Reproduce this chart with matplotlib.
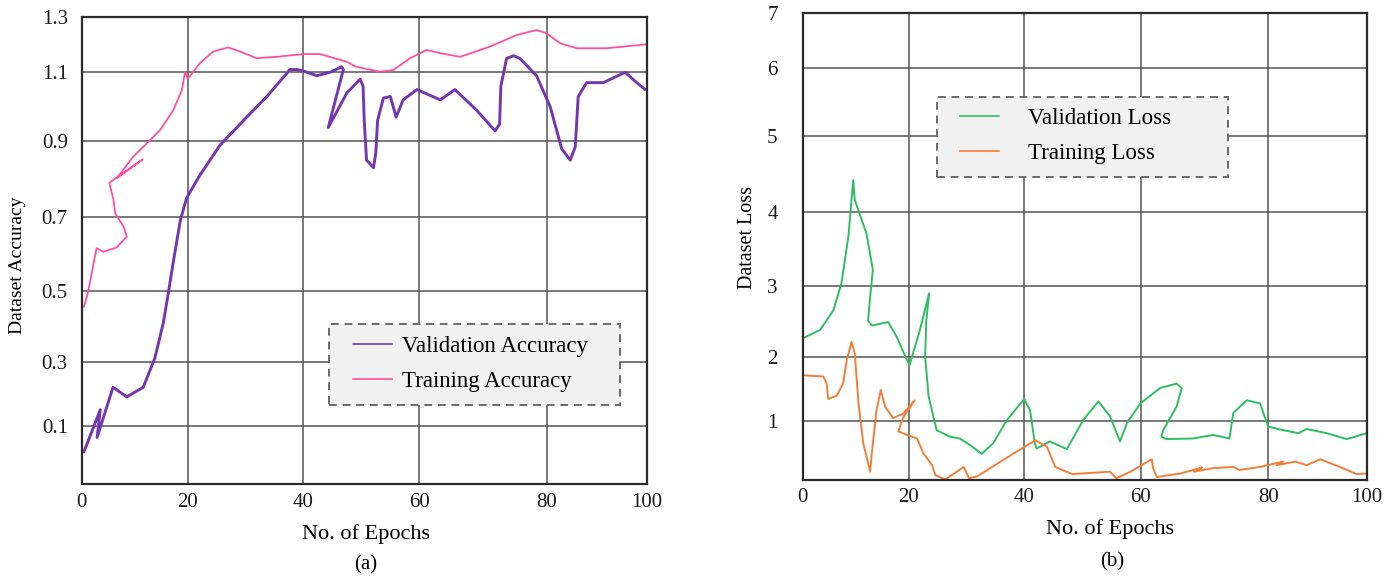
import numpy as np
import matplotlib
matplotlib.use("Agg")
import matplotlib.pyplot as plt
from matplotlib.patches import Rectangle

# ---------------- data ----------------
acc_val_epoch = [0.4, 3.5, 2.9, 5.9, 8.5, 11.6, 13.8, 15.4, 16.3, 17.3, 18.6, 19.8, 22.1, 25.6, 30.2,
                 33.7, 37.7, 38.9, 40.0, 42.3, 44.6, 46.6, 46.9, 44.3, 47.5, 49.8, 50.3, 50.5, 50.9, 52.1,
                 52.5, 52.8, 53.8, 55.0, 56.0, 57.2, 59.6, 63.3, 65.6, 69.0, 71.9, 72.6, 72.8, 73.7, 74.8, 75.8,
                 78.4, 80.7, 83.0, 84.7, 85.7, 86.3, 88.0, 91.3, 95.7, 98.0, 99.7]
acc_val = [0.01, 0.15, 0.06, 0.22, 0.19, 0.22, 0.31, 0.41, 0.49, 0.58, 0.69, 0.75, 0.81, 0.89, 0.97,
           1.03, 1.11, 1.11, 1.105, 1.09, 1.10, 1.12, 1.11, 0.94, 1.04, 1.08, 1.06, 0.96, 0.85, 0.83,
           0.87, 0.96, 1.025, 1.03, 0.97, 1.02, 1.05, 1.02, 1.05, 0.99, 0.93, 0.95, 1.06, 1.15, 1.16, 1.15,
           1.09, 1.00, 0.88, 0.85, 0.885, 1.03, 1.07, 1.07, 1.10, 1.07, 1.05]

acc_train_epoch = [0.4, 1.1, 2.8, 4.1, 6.6, 8.5, 7.9, 6.3, 6.0, 5.2, 11.5, 6.6, 9.7, 12.3, 14.8,
                   17.3, 18.9, 19.5, 20.0, 22.1, 24.4, 27.0, 29.1, 31.9, 35.4, 40.0, 42.9, 47.5, 49.1, 53.2,
                   55.5, 58.4, 61.2, 63.3, 66.4, 71.1, 75.3, 78.4, 80.0, 82.7, 86.0, 92.0, 99.7]
acc_train = [0.455, 0.49, 0.615, 0.605, 0.617, 0.646, 0.673, 0.709, 0.744, 0.79, 0.852, 0.802, 0.859, 0.895, 0.933,
             0.991, 1.049, 1.102, 1.081, 1.133, 1.175, 1.19, 1.175, 1.151, 1.156, 1.166, 1.166, 1.138, 1.12, 1.102,
             1.108, 1.151, 1.181, 1.169, 1.156, 1.193, 1.235, 1.253, 1.241, 1.205, 1.187, 1.187, 1.201]

loss_val_epoch = [0, 3.3, 5.8, 7.3, 8.6, 9.5, 9.8, 12.0, 13.2, 12.7, 12.3, 13.0, 16.1, 17.7, 19.6,
                  20.1, 21.9, 23.5, 23.0, 22.8, 23.4, 24.8, 27.1, 28.8, 30.6, 32.6, 34.6, 37.0, 40.0, 41.0,
                  41.8, 42.1, 44.4, 47.3, 50.1, 52.7, 54.7, 56.4, 57.6, 59.9, 63.0, 65.6, 66.4, 65.6, 63.5,
                  63.2, 64.0, 68.2, 71.3, 73.9, 74.5, 76.6, 78.7, 80.0, 83.0, 86.1, 87.8, 91.8, 95.9, 100]
loss_val = [2.26, 2.38, 2.66, 3.04, 3.67, 4.42, 4.16, 3.71, 3.22, 2.85, 2.51, 2.44, 2.49, 2.28, 1.95,
            1.87, 2.38, 2.90, 2.51, 2.0, 1.38, 0.84, 0.73, 0.70, 0.59, 0.44, 0.62, 1.01, 1.34, 1.16,
            0.62, 0.53, 0.65, 0.52, 1.01, 1.30, 1.07, 0.65, 0.96, 1.27, 1.51, 1.58, 1.51, 1.22, 0.84,
            0.73, 0.69, 0.70, 0.76, 0.70, 1.12, 1.32, 1.27, 0.90, 0.84, 0.79, 0.86, 0.79, 0.69, 0.79]

loss_train_epoch = [0, 3.9, 4.5, 4.8, 6.4, 7.6, 8.3, 9.2, 9.8, 10.5, 11.4, 12.7, 13.0, 13.9, 14.7,
                    15.5, 17.0, 18.9, 21.0, 18.9, 18.0, 19.6, 21.4, 22.5, 24.0, 24.6, 26.3, 29.5, 30.4, 31.8,
                    38.2, 41.9, 43.9, 45.3, 48.2, 54.7, 55.8, 58.2, 61.7, 61.9, 62.5, 66.2, 69.6, 68.3, 71.3,
                    74.5, 75.5, 78.7, 83.0, 81.7, 85.5, 87.8, 90.5, 94.5, 97.9, 100]
loss_train = [1.71, 1.69, 1.58, 1.34, 1.39, 1.58, 1.95, 2.21, 2.05, 1.27, 0.62, 0.14, 0.45, 1.17, 1.48,
              1.22, 1.04, 1.11, 1.32, 1.05, 0.82, 0.76, 0.70, 0.45, 0.25, 0.08, 0.01, 0.22, 0.03, 0.06,
              0.45, 0.67, 0.56, 0.22, 0.10, 0.14, 0.03, 0.14, 0.35, 0.20, 0.05, 0.11, 0.21, 0.14, 0.20,
              0.22, 0.17, 0.22, 0.31, 0.25, 0.31, 0.25, 0.35, 0.22, 0.10, 0.11]

epoch_ticks = [0, 20, 40, 60, 80, 100]
acc_ticks = [0.1, 0.3, 0.5, 0.7, 0.9, 1.1, 1.3]
acc_tick_labels = ["0.1", "0.3", "0.5", "0.7", "0.9", "1.1", "1.3"]
loss_ticks = [1, 2, 3, 4, 5, 6, 7]
loss_tick_labels = ["1", "2", "3", "4", "5", "6", "7"]

# ---------------- non-uniform axis scales of the original figure ----------------
acc_x_knots, acc_x_pos = [0, 20, 40, 60, 80, 100], [0, 0.1876, 0.3922, 0.5975, 0.8230, 1.0]
acc_y_knots = [-0.1, 0.1, 0.3, 0.5, 0.7, 0.9, 1.1, 1.3]
acc_y_pos = [0, 0.1254, 0.2624, 0.4143, 0.5727, 0.7340, 0.8817, 1.0]
loss_x_knots, loss_x_pos = [0, 20, 40, 60, 80, 100], [0, 0.1884, 0.3927, 0.5995, 0.8251, 1.0]
loss_y_knots = [0, 1, 2, 3, 4, 5, 6, 7]
loss_y_pos = [0, 0.127, 0.264, 0.4154, 0.5739, 0.736, 0.8829, 1.0]


def piecewise(knots, pos):
    k = np.asarray(knots, float)
    p = np.asarray(pos, float)

    def _map(v, a, b):
        v = np.asarray(v, float)
        out = np.interp(v, a, b)
        lo_s = (b[1] - b[0]) / (a[1] - a[0])
        hi_s = (b[-1] - b[-2]) / (a[-1] - a[-2])
        out = np.where(v < a[0], b[0] + (v - a[0]) * lo_s, out)
        out = np.where(v > a[-1], b[-1] + (v - a[-1]) * hi_s, out)
        return out

    return (lambda v: _map(v, k, p)), (lambda t: _map(t, p, k))


SERIF = ["Liberation Serif", "DejaVu Serif"]
plt.rcParams["font.family"] = SERIF

fig = plt.figure(figsize=(13.95, 5.77), dpi=100)
axA = fig.add_axes([0.0586, 0.1607, 0.4050, 0.8098])
axB = fig.add_axes([0.5754, 0.1681, 0.4045, 0.8094])

GRID = "#555555"
TICK_FS = 15


def style(ax, xk, xp, yk, yp, xlim, ylim, yticks, ylabels, ypad):
    ax.set_xscale("function", functions=piecewise(xk, xp))
    ax.set_yscale("function", functions=piecewise(yk, yp))
    ax.set_xlim(*xlim)
    ax.set_ylim(*ylim)
    ax.set_xticks(epoch_ticks)
    ax.set_xticklabels([str(t) for t in epoch_ticks])
    ax.set_yticks(yticks)
    ax.set_yticklabels(ylabels)
    ax.minorticks_off()
    ax.grid(True, color=GRID, lw=1.1)
    ax.set_axisbelow(True)
    for s in ax.spines.values():
        s.set_color("#2a2a2a")
        s.set_linewidth(1.6)
    ax.xaxis.set_tick_params(length=0, labelsize=TICK_FS, labelcolor="#1a1a1a", pad=6)
    ax.yaxis.set_tick_params(length=0, labelsize=TICK_FS, labelcolor="#1a1a1a", pad=ypad)


style(axA, acc_x_knots, acc_x_pos, acc_y_knots, acc_y_pos, (0, 100), (-0.1, 1.3),
      acc_ticks, acc_tick_labels, 10)
style(axB, loss_x_knots, loss_x_pos, loss_y_knots, loss_y_pos, (0, 100), (0, 7),
      loss_ticks, loss_tick_labels, 18)

PURPLE = "#7437ad"
PINK = "#ff4fa3"
GREEN = "#2fbd62"
ORANGE = "#f07f3a"

axA.plot(acc_val_epoch, acc_val, color=PURPLE, lw=2.1, label="Validation Accuracy",
         solid_joinstyle="round", solid_capstyle="round")
axA.plot(acc_train_epoch, acc_train, color=PINK, lw=1.3, label="Training Accuracy",
         solid_joinstyle="round")
axB.plot(loss_val_epoch, loss_val, color=GREEN, lw=1.4, label="Validation Loss",
         solid_joinstyle="round")
axB.plot(loss_train_epoch, loss_train, color=ORANGE, lw=1.4, label="Training Loss",
         solid_joinstyle="round")

LEG_FS = 16.5


def legend(ax, box, anchor, textpad):
    ax.add_patch(Rectangle(box[:2], box[2], box[3], transform=ax.transAxes,
                           facecolor="#f1f1f1", edgecolor="#6a6a6a", lw=1.4,
                           ls=(0, (4, 3)), zorder=4))
    leg = ax.legend(loc="upper left", bbox_to_anchor=anchor, frameon=False,
                    borderpad=0, borderaxespad=0, fontsize=LEG_FS,
                    handlelength=1.7, handletextpad=textpad, labelspacing=0.62)
    leg.set_zorder(5)
    for h in leg.legend_handles:
        h.set_linewidth(1.2)
    return leg


legend(axA, (0.4377, 0.1697, 0.515, 0.1733), (0.480, 0.317), 0.45)
legend(axB, (0.2375, 0.6495, 0.5167, 0.1713), (0.2788, 0.797), 1.25)

LABEL_FS = 16
axA.set_xlabel("No. of Epochs", fontsize=LABEL_FS)
axA.xaxis.set_label_coords(0.503, -0.085)
axA.set_ylabel("Dataset Accuracy", fontsize=14)
axA.yaxis.set_label_coords(-0.099, 0.469)
axB.set_xlabel("No. of Epochs", fontsize=LABEL_FS)
axB.xaxis.set_label_coords(0.545, -0.084)
axB.set_ylabel("Dataset Loss", fontsize=14.5)
axB.yaxis.set_label_coords(-0.081, 0.52)

fig.text(0.2624, 0.021, "(a)", ha="center", va="center", fontsize=15)
fig.text(0.797, 0.026, "(b)", ha="center", va="center", fontsize=15)

fig.savefig("out.png", dpi=100, facecolor="white")
